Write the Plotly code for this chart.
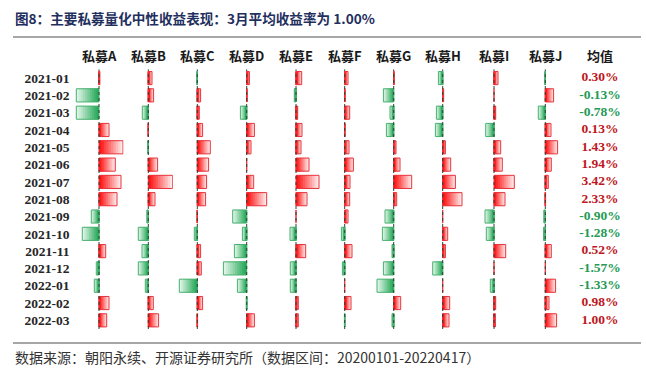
import plotly.graph_objects as go

# ---------------- data ----------------
months = ["2021-01", "2021-02", "2021-03", "2021-04", "2021-05", "2021-06", "2021-07",
          "2021-08", "2021-09", "2021-10", "2021-11", "2021-12", "2022-01", "2022-02", "2022-03"]
funds = ["私募A", "私募B", "私募C", "私募D", "私募E", "私募F", "私募G", "私募H", "私募I", "私募J"]

fund_A = [0.14, -4.54, -4.54, 2.00, 4.80, 3.26, 4.40, 3.60, -1.54, -3.34, 1.34, -0.54, -0.94, 2.00, 1.54]
fund_B = [0.74, 1.06, -1.20, 0.04, -0.10, 1.86, 4.86, 1.34, -0.26, -2.00, -1.26, -2.00, -0.60, 1.00, 2.06]
fund_C = [-0.10, 0.66, 0.40, 1.06, 2.60, 2.26, 1.86, 1.66, 0.04, -0.60, 0.66, 0.80, -3.60, 1.06, 0.06]
fund_D = [0.54, 0.06, -1.26, 1.54, 0.86, 0.00, 1.40, 4.00, -2.80, -0.86, -2.46, -4.66, -1.86, -0.10, 1.54]
fund_E = [1.14, -0.34, 0.34, 1.20, 1.00, 2.60, 4.60, 2.20, 0.00, -1.20, 1.94, -1.14, -1.14, 0.46, 0.46]
fund_F = [0.66, 0.06, 1.00, 0.04, 0.86, 1.74, 1.06, 1.00, 0.66, -0.66, 1.46, -0.46, 0.00, 1.26, -0.06]
fund_G = [0.10, -2.06, -0.74, -1.46, 0.46, 1.26, 3.60, 0.60, -1.74, -2.26, -0.34, -2.06, -3.34, 1.40, -0.34]
fund_H = [-0.86, 0.14, -1.26, -1.46, 0.54, 1.60, 2.54, 3.86, 0.00, 1.00, 0.54, -2.00, 0.00, 1.40, 1.26]
fund_I = [0.80, 0.00, 0.34, -1.66, 1.34, 1.66, 4.06, 2.20, -1.80, -1.54, 2.34, 0.00, -0.74, 0.34, 0.26]
fund_J = [-0.10, 1.66, -1.40, 1.14, 2.46, 1.20, 0.60, 0.06, -0.26, -0.34, 1.20, 0.00, 2.06, 0.74, 2.26]

mean_ret = [0.30, -0.13, -0.78, 0.13, 1.43, 1.94, 3.42, 2.33, -0.90, -1.28, 0.52, -1.57, -1.33, 0.98, 1.00]

series = [fund_A, fund_B, fund_C, fund_D, fund_E, fund_F, fund_G, fund_H, fund_I, fund_J]

title_text = "图8：主要私募量化中性收益表现：3月平均收益率为 1.00%"
footer_text = "数据来源：朝阳永续、开源证券研究所（数据区间：20200101-20220417）"
mean_header = "均值"

# ---------------- layout constants ----------------
W, H = 646, 376
zero_px = [99, 148.3, 197.3, 246.7, 296, 344.7, 393.7, 442.7, 494, 545.3]
half_px = 24.5
px_per_unit = 5.0
half_units = half_px / px_per_unit
mean_px = 600
row_top_px, row_bot_px = 69.4, 329.0
ydom = [1 - row_bot_px / H, 1 - row_top_px / H]

red_base, red_tip, red_border = (255, 18, 18), (255, 232, 232), "#E8343C"
green_base, green_tip, green_border = (38, 168, 88), (222, 245, 230), "#48B070"
txt_red, txt_green = "#BE1622", "#249A55"

CJK = "Noto Sans CJK SC"
SERIF = "Liberation Serif"


def mix(a, b, t):
    return "rgb(%d,%d,%d)" % tuple(round(a[i] + (b[i] - a[i]) * t) for i in range(3))


fig = go.Figure()
N = 10
layout_axes = {}
shapes = []
annotations = []

for i, (name, vals) in enumerate(zip(funds, series)):
    xa = "x" if i == 0 else f"x{i + 1}"
    xkey = "xaxis" if i == 0 else f"xaxis{i + 1}"
    for k in range(N):
        frac = 1 - k / N
        t = k / (N - 1)
        colors = [mix(red_tip, red_base, t) if v >= 0 else mix(green_tip, green_base, t) for v in vals]
        fig.add_trace(go.Bar(x=[v * frac for v in vals], y=months, orientation="h",
                             xaxis=xa, yaxis="y", marker=dict(color=colors, line=dict(width=0)),
                             showlegend=False, hoverinfo="skip"))
    borders = [red_border if v >= 0 else green_border for v in vals]
    fig.add_trace(go.Bar(x=vals, y=months, orientation="h", xaxis=xa, yaxis="y",
                         marker=dict(color="rgba(0,0,0,0)", line=dict(color=borders, width=1)),
                         showlegend=False, hovertemplate="%{y}: %{x:.2f}<extra>" + name + "</extra>"))
    z = zero_px[i]
    layout_axes[xkey] = dict(domain=[(z - half_px) / W, (z + half_px) / W],
                             range=[-half_units, half_units], anchor="y", visible=False,
                             fixedrange=True)
    shapes.append(dict(type="line", xref=xa, x0=0, x1=0, yref="y domain", y0=0, y1=1,
                       line=dict(color="#2F3F35", width=1, dash="dot"), layer="above"))
    annotations.append(dict(xref=xa, x=0, yref="paper", y=1 - 55 / H, text=f"<b>{name}</b>",
                            showarrow=False, xanchor="center", yanchor="middle",
                            font=dict(family=CJK, size=13, color="#1A1A1A")))

# mean column
fig.add_trace(go.Scatter(x=[0] * len(mean_ret), y=months, mode="text", xaxis="x11", yaxis="y",
                         text=[f"<b>{v:.2f}%</b>" for v in mean_ret],
                         textfont=dict(family=SERIF, size=13.5,
                                       color=[txt_red if v >= 0 else txt_green for v in mean_ret]),
                         textposition="middle center", showlegend=False, hoverinfo="skip"))
layout_axes["xaxis11"] = dict(domain=[(mean_px - 30) / W, (mean_px + 30) / W], range=[-1, 1],
                              anchor="y", visible=False)
annotations.append(dict(xref="x11", x=0, yref="paper", y=1 - 55 / H, text=f"<b>{mean_header}</b>",
                        showarrow=False, xanchor="center", yanchor="middle",
                        font=dict(family=CJK, size=13, color="#1A1A1A")))

# title, rules, footer
annotations.append(dict(xref="paper", yref="paper", x=13 / W, y=1 - 18 / H, xanchor="left",
                        yanchor="middle", showarrow=False, text=f"<b>{title_text}</b>",
                        font=dict(family=CJK, size=13.6, color="#1F2F5E")))
annotations.append(dict(xref="paper", yref="paper", x=13 / W, y=1 - 357 / H, xanchor="left",
                        yanchor="middle", showarrow=False, text=footer_text,
                        font=dict(family=CJK, size=14, color="#333333")))
shapes.append(dict(type="line", xref="paper", yref="paper", x0=13 / W, x1=641 / W,
                   y0=1 - 37 / H, y1=1 - 37 / H, line=dict(color="#A6A6A6", width=2)))
shapes.append(dict(type="line", xref="paper", yref="paper", x0=13 / W, x1=641 / W,
                   y0=1 - 343 / H, y1=1 - 343 / H, line=dict(color="#A6A6A6", width=2)))

fig.update_layout(
    width=W, height=H, margin=dict(l=0, r=0, t=0, b=0),
    paper_bgcolor="white", plot_bgcolor="white",
    barmode="overlay", bargap=0.24, showlegend=False,
    yaxis=dict(domain=ydom, type="category", categoryorder="array", categoryarray=months,
               range=[len(months) - 0.5, -0.5], anchor="x", showgrid=False, zeroline=False,
               showline=False, ticks="", automargin=False, fixedrange=True,
               tickfont=dict(family=SERIF, size=13.5, color="#262626"),
               ticklabelstandoff=4),
    shapes=shapes, annotations=annotations,
    **layout_axes,
)
fig.update_yaxes(tickprefix="<b>", ticksuffix="</b>")

fig.write_html("out.html", config={"displayModeBar": False},
               post_script="document.body.style.margin='0px';document.body.style.padding='0px';")
